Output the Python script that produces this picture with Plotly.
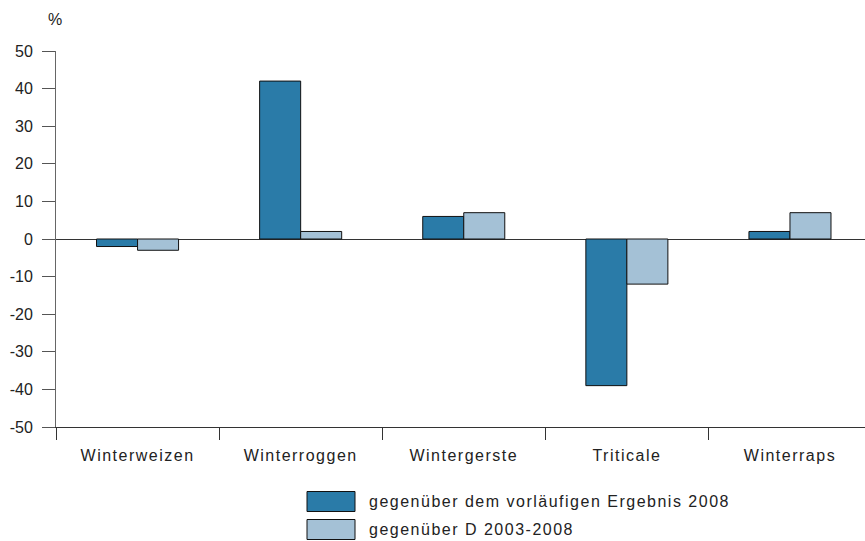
import plotly.graph_objects as go

categories = ["Winterweizen", "Winterroggen", "Wintergerste", "Triticale", "Winterraps"]
vs_2008 = [-2, 42, 6, -39, 2]
vs_2003_2008 = [-3, 2, 7, -12, 7]
series_names = ["gegenüber dem vorläufigen Ergebnis 2008", "gegenüber D 2003-2008"]
y_ticks = [50, 40, 30, 20, 10, 0, -10, -20, -30, -40, -50]

dark = "#2a7ba8"
light = "#a4c1d6"
font_family = "Liberation Sans, Arial, Helvetica, sans-serif"
text_color = "#222222"
fs = 16

fig = go.Figure()
fig.add_trace(go.Bar(x=categories, y=vs_2008, name=series_names[0],
                     marker=dict(color=dark, line=dict(color="#111111", width=1))))
fig.add_trace(go.Bar(x=categories, y=vs_2003_2008, name=series_names[1],
                     marker=dict(color=light, line=dict(color="#111111", width=1))))

W, H = 865, 541
L, R, T, B = 56, 0, 51, 114
PL, PR, PT, PB = L, W - R, T, H - B

def px_x(p):
    return (p - PL) / (PR - PL)

def px_y(p):
    return (PB - p) / (PB - PT)

fig.update_layout(
    width=W, height=H,
    margin=dict(l=L, r=R, t=T, b=B, pad=0),
    paper_bgcolor="white", plot_bgcolor="white",
    barmode="group", bargap=0.497, bargroupgap=0,
    showlegend=False,
    font=dict(family=font_family, size=fs, color=text_color),
    xaxis=dict(
        type="category", range=[-0.5, 4.46], showgrid=False, zeroline=False,
        showline=True, linecolor="#333333", linewidth=1,
        ticks="outside", tickson="boundaries", ticklen=12, tickcolor="#333333",
        tickwidth=1, ticklabelstandoff=14,
        tickfont=dict(size=fs, color=text_color),
    ),
    yaxis=dict(
        range=[-50, 50], tickvals=y_ticks, ticktext=[str(v) for v in y_ticks],
        showgrid=False, zeroline=True, zerolinecolor="#333333", zerolinewidth=1,
        showline=True, linecolor="#666666", linewidth=1,
        ticks="outside", ticklen=13, tickcolor="#555555", tickwidth=1,
        ticklabelstandoff=6,
        tickfont=dict(size=fs, color=text_color),
    ),
)

fig.add_annotation(text="%", xref="paper", yref="paper",
                   x=px_x(55), y=px_y(19.5), showarrow=False,
                   xanchor="center", yanchor="middle",
                   font=dict(size=fs, color=text_color))

legend_rows = [(491.5, 511.5, 501.5), (519.5, 539.5, 529.5)]
colors = [dark, light]
for (top, bot, mid), col, name in zip(legend_rows, colors, series_names):
    fig.add_shape(type="rect", xref="paper", yref="paper",
                  x0=px_x(307), x1=px_x(355), y0=px_y(bot), y1=px_y(top),
                  fillcolor=col, line=dict(color="#111111", width=1))
    fig.add_annotation(text=name, xref="paper", yref="paper",
                       x=px_x(367), y=px_y(mid), showarrow=False,
                       xanchor="left", yanchor="middle",
                       font=dict(size=fs, color=text_color))

post = """
document.body.style.margin = '0';
document.body.style.overflow = 'hidden';
var gd = document.getElementById('{plot_id}');
gd.querySelectorAll('.xtick text').forEach(function(t){ t.style.letterSpacing = '1.5px'; });
gd.querySelectorAll('text.annotation-text').forEach(function(t){
  var b = t.getBBox();
  t.setAttribute('text-anchor', 'start');
  t.setAttribute('x', b.x);
  t.style.letterSpacing = '1.5px';
});
"""
fig.write_html("out.html", post_script=post, config={"displayModeBar": False})
